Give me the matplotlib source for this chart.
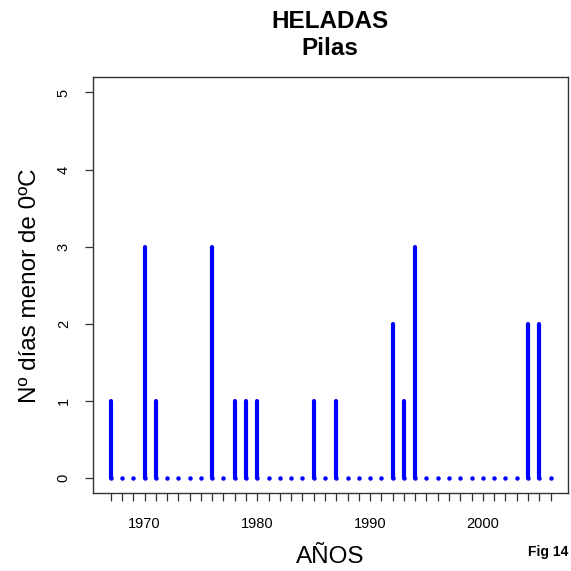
import numpy as np
import matplotlib.pyplot as plt

# frost days per year (Pilas)
years = list(range(1967, 2007))
heladas = [1, 0, 0, 3, 1, 0, 0, 0, 0, 3,
           0, 1, 1, 1, 0, 0, 0, 0, 1, 0,
           1, 0, 0, 0, 0, 2, 1, 3, 0, 0,
           0, 0, 0, 0, 0, 0, 0, 2, 2, 0]
decadas = [1970, 1980, 1990, 2000]
yticks = [0, 1, 2, 3, 4, 5]

plt.rcParams['font.family'] = ['Liberation Sans', 'DejaVu Sans']

fig = plt.figure(figsize=(5.71, 5.71), dpi=100)
ax = fig.add_axes([0.163, 0.1366, 0.832, 0.7284])

# type="h" style: vertical lines with round ends (zero values show as a dot)
ax.vlines(years, 0, heladas, colors='#0000ff', linewidth=3, capstyle='round')
ax.plot(years, np.zeros(len(years)), linestyle='none', marker='o',
        markersize=3.2, color='#0000ff', markeredgewidth=0)

ax.set_xlim(years[0] - 0.04 * (years[-1] - years[0]), years[-1] + 0.04 * (years[-1] - years[0]))
ax.set_ylim(-0.2, 5.2)

ax.set_xticks(years)
ax.set_xticklabels([str(y) if y in decadas else '' for y in years])
ax.set_yticks(yticks)
ax.set_yticklabels([str(v) for v in yticks], rotation=90, va='center')
ax.tick_params(axis='both', direction='out', length=6, width=0.9, labelsize=10.5, color='#333333')
ax.tick_params(axis='x', pad=11)
ax.tick_params(axis='y', pad=10)

for s in ax.spines.values():
    s.set_color('#333333')
    s.set_linewidth(1)

fig.text(0.578, 0.962, 'HELADAS', ha='center', va='center', fontsize=17.5, fontweight='bold')
fig.text(0.578, 0.915, 'Pilas', ha='center', va='center', fontsize=17.5, fontweight='bold')
fig.text(0.578, 0.024, 'AÑOS', ha='center', va='center', fontsize=17.5)
fig.text(0.052, 0.5, 'Nº días menor de 0ºC', ha='center', va='center', rotation=90, fontsize=17.5)
fig.text(0.96, 0.033, 'Fig 14', ha='center', va='center', fontsize=10, fontweight='bold')

fig.savefig('out.png', dpi=100)
